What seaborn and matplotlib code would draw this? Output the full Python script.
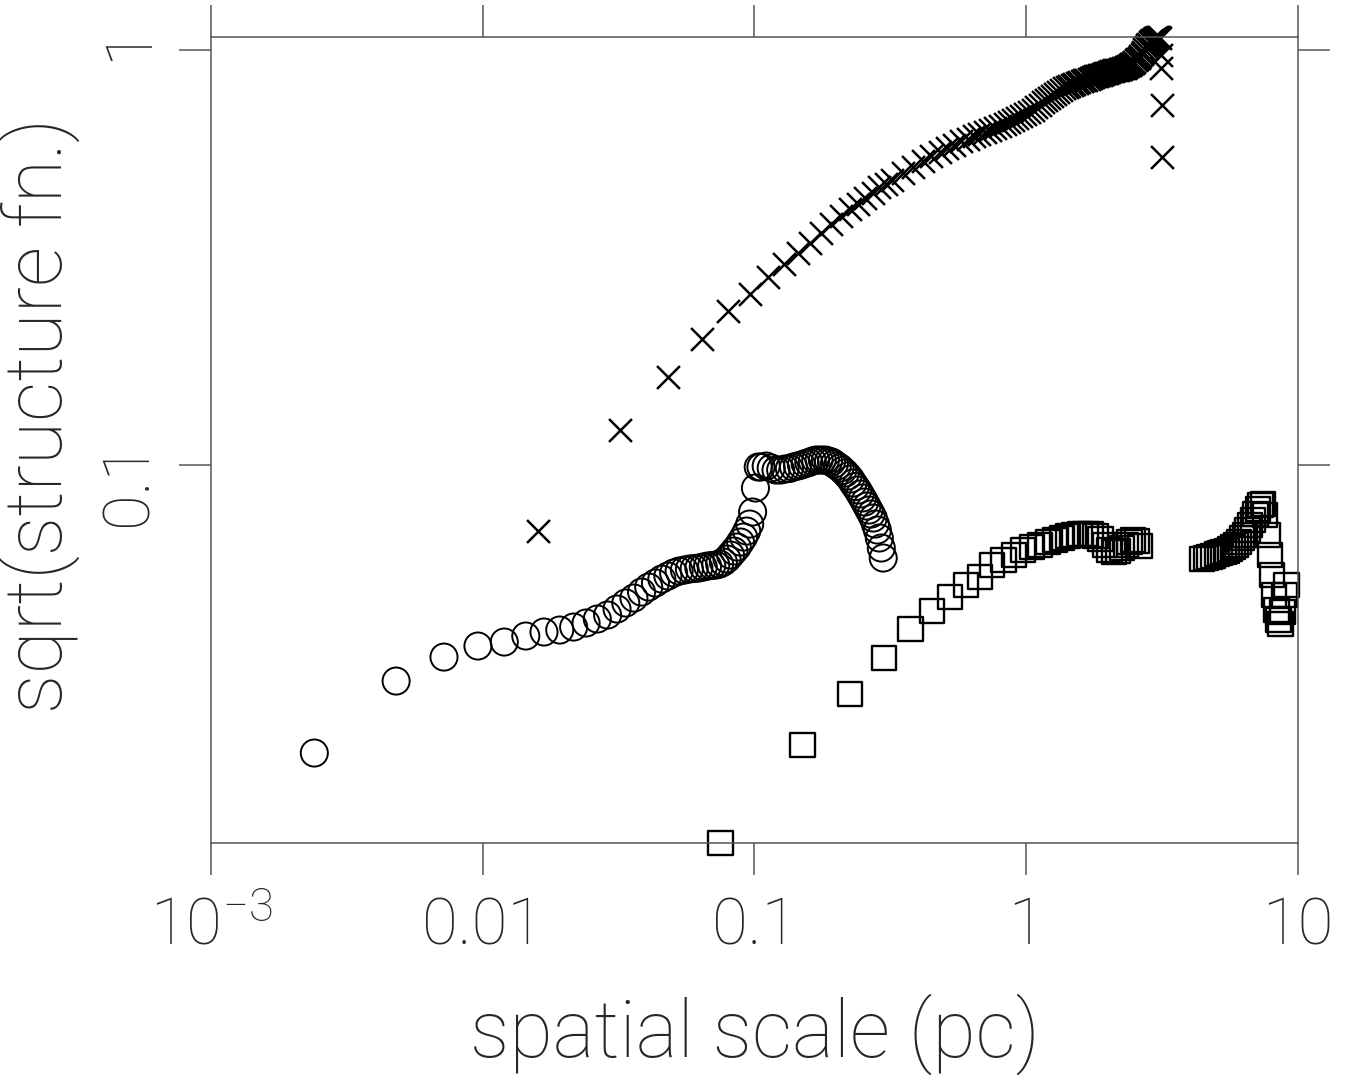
import matplotlib
matplotlib.use("Agg")
import matplotlib.pyplot as plt
from matplotlib import font_manager as fm
from matplotlib.ticker import FixedLocator, FixedFormatter, NullLocator
import seaborn as sns
import pandas as pd

# ---------------- data ----------------
circle_x = [0.0024, 0.0048, 0.0072, 0.0096, 0.0120, 0.0144, 0.0168, 0.0192, 0.0216, 0.0240,
            0.0264, 0.0288, 0.0312, 0.0336, 0.0360, 0.0384, 0.0408, 0.0432, 0.0456, 0.0480,
            0.0504, 0.0528, 0.0552, 0.0576, 0.0600, 0.0624, 0.0648, 0.0672, 0.0696, 0.0720,
            0.0744, 0.0768, 0.0792, 0.0816, 0.0840, 0.0864, 0.0888, 0.0912, 0.0936, 0.0960,
            0.0984, 0.1008, 0.1032,
            0.1056, 0.1104, 0.1152, 0.1200, 0.1248, 0.1296, 0.1344, 0.1392, 0.1440, 0.1488,
            0.1536, 0.1584, 0.1632, 0.1680, 0.1728, 0.1776, 0.1824, 0.1872, 0.1920, 0.1968,
            0.2016, 0.2064, 0.2112, 0.2160, 0.2208, 0.2256, 0.2304, 0.2352, 0.2400, 0.2448,
            0.2496, 0.2544, 0.2592, 0.2640, 0.2688, 0.2736, 0.2784, 0.2832, 0.2880, 0.2928,
            0.2976]
circle_y = [0.02023, 0.03016, 0.03445, 0.03663, 0.03745, 0.03872, 0.03959, 0.04003, 0.04070, 0.04162,
            0.04255, 0.04350, 0.04498, 0.04650, 0.04781, 0.04942, 0.05081, 0.05196, 0.05312, 0.05401,
            0.05492, 0.05553, 0.05584, 0.05615, 0.05631, 0.05647, 0.05678, 0.05710, 0.05725, 0.05741,
            0.05773, 0.05838, 0.05936, 0.06069, 0.06205, 0.06344, 0.06523, 0.06706, 0.06933, 0.07208,
            0.07705, 0.08802, 0.09890,
            0.09890, 0.09945, 0.09835, 0.09726, 0.09726, 0.09781, 0.09808, 0.09890, 0.09945, 0.10000,
            0.10080, 0.10140, 0.10220, 0.10280, 0.10280, 0.10280, 0.10280, 0.10220, 0.10170, 0.10060,
            0.09945, 0.09835, 0.09700, 0.09566, 0.09408, 0.09253, 0.09050, 0.08876, 0.08705, 0.08514,
            0.08327, 0.08144, 0.07965, 0.07790, 0.07619, 0.07452, 0.07208, 0.06972, 0.06670, 0.06310,
            0.05969]

cross_x = [0.016, 0.032, 0.048, 0.064, 0.080, 0.096, 0.112, 0.128, 0.144, 0.160,
           0.176, 0.192, 0.208, 0.224, 0.240, 0.256, 0.272, 0.288, 0.304, 0.320,
           0.352, 0.384, 0.416, 0.448, 0.480, 0.512, 0.544, 0.576, 0.608, 0.640,
           0.672, 0.704, 0.736, 0.768, 0.800, 0.832, 0.864, 0.896, 0.928, 0.960,
           0.992, 1.024, 1.056, 1.088, 1.120, 1.152, 1.184, 1.216, 1.248, 1.280,
           1.312, 1.344, 1.376, 1.408, 1.440, 1.472, 1.504, 1.536, 1.568, 1.600,
           1.632, 1.664, 1.696, 1.728, 1.760, 1.792, 1.824, 1.856, 1.888, 1.920,
           1.952, 1.984, 2.016, 2.048, 2.080, 2.112, 2.144, 2.176, 2.208, 2.240,
           2.272, 2.304, 2.336, 2.368, 2.400, 2.432, 2.464, 2.496, 2.528, 2.560,
           2.592, 2.624, 2.656, 2.688, 2.720, 2.752, 2.784, 2.816, 2.848, 2.880,
           2.912, 2.944, 2.976, 3.008, 3.040, 3.072, 3.104,
           3.120, 3.136, 3.152, 3.168]
cross_y = [0.0693, 0.1214, 0.1630, 0.2012, 0.2350, 0.2582, 0.2838, 0.3049, 0.3242, 0.3426,
           0.3622, 0.3807, 0.3981, 0.4139, 0.4266, 0.4398, 0.4535, 0.4675, 0.4767, 0.4860,
           0.5052, 0.5223, 0.5400, 0.5552, 0.5677, 0.5804, 0.5902, 0.6034, 0.6118, 0.6204,
           0.6273, 0.6343, 0.6414, 0.6485, 0.6558, 0.6631, 0.6705, 0.6780, 0.6856, 0.6933,
           0.7010, 0.7088, 0.7187, 0.7288, 0.7389, 0.7492, 0.7576, 0.7660, 0.7745, 0.7832,
           0.7919, 0.8008, 0.8097, 0.8142, 0.8187, 0.8233, 0.8279, 0.8325, 0.8371, 0.8418,
           0.8465, 0.8488, 0.8535, 0.8559, 0.8606, 0.8654, 0.8678, 0.8703, 0.8727, 0.8751,
           0.8800, 0.8824, 0.8849, 0.8898, 0.8923, 0.8948, 0.8948, 0.8973, 0.8998, 0.9023,
           0.9048, 0.9074, 0.9099, 0.9150, 0.9201, 0.9253, 0.9304, 0.9382, 0.9460, 0.9513,
           0.9593, 0.9673, 0.9780, 0.9917, 1.0056, 1.0168, 1.0281, 1.0367, 1.0454, 1.0512,
           1.0570, 1.0629, 1.0688, 1.0718, 1.0747, 1.0747, 1.0688,
           0.975, 0.905, 0.737, 0.552]

square_x = [0.075, 0.150, 0.225, 0.300, 0.375, 0.450, 0.525, 0.600, 0.675, 0.750,
            0.825, 0.900, 0.975, 1.050, 1.125, 1.200, 1.275, 1.350, 1.425, 1.500,
            1.575, 1.650, 1.725, 1.800, 1.875, 1.950, 2.025, 2.100, 2.175, 2.250,
            2.325, 2.400, 2.475, 2.550, 2.625,
            4.425, 4.575, 4.725, 4.875, 5.025, 5.175, 5.325, 5.475, 5.625, 5.775,
            5.925, 6.075, 6.225, 6.375, 6.525, 6.675, 6.825, 6.975, 7.125, 7.275,
            7.425, 7.575, 7.725, 7.875, 8.025, 8.175, 8.325, 8.475, 8.625, 8.775,
            8.925, 9.075]
square_y = [0.01228, 0.02115, 0.02807, 0.03427, 0.04025, 0.04448, 0.04807, 0.05138, 0.05371, 0.05741,
            0.05903, 0.06069, 0.06240, 0.06344, 0.06415, 0.06523, 0.06596, 0.06670, 0.06743, 0.06781,
            0.06819, 0.06819, 0.06800, 0.06743, 0.06632, 0.06415, 0.06240, 0.06171, 0.06205, 0.06310,
            0.06415, 0.06523, 0.06596, 0.06559, 0.06380,
            0.05936, 0.05969, 0.06002, 0.06035, 0.06103, 0.06137, 0.06171, 0.06205, 0.06274, 0.06344,
            0.06415, 0.06523, 0.06670, 0.06781, 0.06972, 0.07168, 0.07370, 0.07619, 0.07834, 0.08010,
            0.08054, 0.07577, 0.06781, 0.06069, 0.05431, 0.04861, 0.04473, 0.04231, 0.04139, 0.04423,
            0.04861, 0.05138]

x_ticks = [0.001, 0.01, 0.1, 1, 10]
x_tick_labels = [r"$10^{-3}$", "0.01", "0.1", "1", "10"]
y_ticks = [0.1, 1]
y_tick_labels = ["0.1", "1"]
x_limits = [0.001, 10]
y_limits = [0.01228, 1.075]
x_label = "spatial scale (pc)"
y_label = "sqrt(structure fn.)"

# ---------------- style ----------------
sns.set_style("ticks")

def weight_num(w):
    if isinstance(w, (int, float)):
        return int(w)
    return fm.weight_dict.get(str(w).lower(), 400)

fams = {}
for f in fm.fontManager.ttflist:
    fams.setdefault(f.name, set()).add((weight_num(f.weight), f.style))

family, weight = "DejaVu Sans", 400
for fam in ["Roboto", "Lato", "Inter", "Open Sans", "Noto Sans", "DejaVu Sans"]:
    if fam in fams:
        ws = sorted(w for w, st in fams[fam] if st == "normal")
        if ws:
            family, weight = fam, ws[0]
            break

plt.rcParams["font.family"] = [family, "DejaVu Sans"]
plt.rcParams["font.weight"] = weight
plt.rcParams["axes.labelweight"] = weight
plt.rcParams["mathtext.fontset"] = "custom"
plt.rcParams["mathtext.rm"] = f"{family}:weight={weight}"
plt.rcParams["mathtext.it"] = f"{family}:weight={weight}"
plt.rcParams["mathtext.bf"] = f"{family}:weight={weight}"
plt.rcParams["mathtext.sf"] = f"{family}:weight={weight}"
plt.rcParams["axes.unicode_minus"] = True

W, H = 1353, 1078
fig = plt.figure(figsize=(W / 100, H / 100), dpi=100)
ax = fig.add_axes([211 / W, 1 - 843 / H, (1298 - 211) / W, (843 - 37) / H])
ax.set_xscale("log")
ax.set_yscale("log")

df_c = pd.DataFrame({"x": circle_x, "y": circle_y})
df_x = pd.DataFrame({"x": cross_x, "y": cross_y})
df_s = pd.DataFrame({"x": square_x, "y": square_y})

sns.scatterplot(data=df_c, x="x", y="y", ax=ax, marker="o", s=19.5 ** 2,
                facecolor="none", edgecolor="black", linewidth=1.4, clip_on=False, legend=False)
sns.scatterplot(data=df_x, x="x", y="y", ax=ax, marker="x", s=16.5 ** 2,
                color="black", linewidth=1.8, clip_on=False, legend=False)
sns.scatterplot(data=df_s, x="x", y="y", ax=ax, marker="s", s=17.5 ** 2,
                facecolor="none", edgecolor="black", linewidth=1.7, clip_on=False, legend=False)

ax.set_xlim(*x_limits)
ax.set_ylim(*y_limits)
ax.xaxis.set_major_locator(FixedLocator(x_ticks))
ax.xaxis.set_major_formatter(FixedFormatter(x_tick_labels))
ax.yaxis.set_major_locator(FixedLocator(y_ticks))
ax.yaxis.set_major_formatter(FixedFormatter(y_tick_labels))
ax.xaxis.set_minor_locator(NullLocator())
ax.yaxis.set_minor_locator(NullLocator())

spine_col = "#555555"
for sp in ax.spines.values():
    sp.set_visible(True)
    sp.set_color(spine_col)
    sp.set_linewidth(1.1)

ax.tick_params(which="major", direction="out", length=23, width=1.1, color=spine_col,
               top=True, right=True, labeltop=False, labelright=False)
ax.tick_params(axis="x", labelsize=47, pad=50)
ax.tick_params(axis="y", labelsize=47, pad=14, labelrotation=90)
for lab in ax.get_xticklabels():
    lab.set_verticalalignment("baseline")

ax.set_xlabel(x_label, fontsize=57, fontweight=weight)
ax.set_ylabel(y_label, fontsize=57, fontweight=weight)
ax.xaxis.set_label_coords(0.5, -0.186)
ax.yaxis.set_label_coords(-0.1205, 0.531)

fig.savefig("out.png", dpi=100)
